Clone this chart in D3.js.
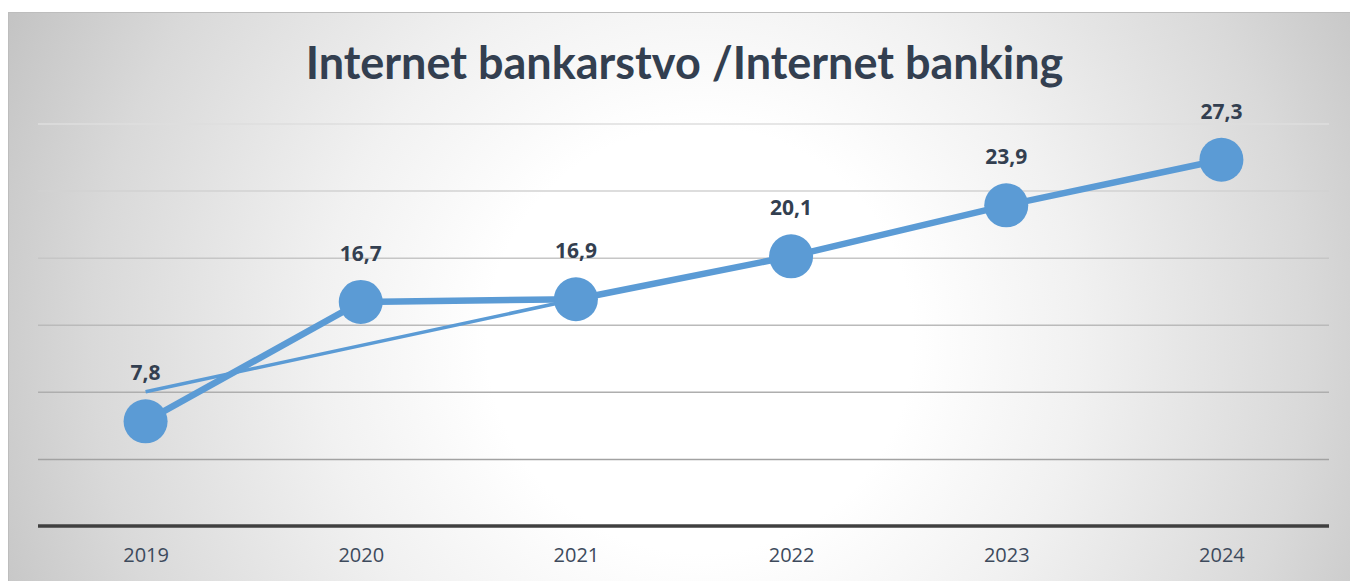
<!DOCTYPE html>
<html>
<head>
<meta charset="utf-8">
<script src="https://cdn.jsdelivr.net/npm/d3@7"></script>
<style>
  html, body { margin: 0; padding: 0; background: #ffffff; }
  svg { display: block; }
</style>
</head>
<body>
<svg id="chart" width="1350" height="581"></svg>
<script>
// ---- data ----
const titleText = "Internet bankarstvo /Internet banking";
const years = ["2019", "2020", "2021", "2022", "2023", "2024"];
const mainValues = [7.8, 16.7, 16.9, 20.1, 23.9, 27.3];
const mainLabels = ["7,8", "16,7", "16,9", "20,1", "23,9", "27,3"];
const secondValues = [10.0, null, 16.9, 20.1, 23.9, 27.3];
const yTicks = [0, 5, 10, 15, 20, 25, 30];

// ---- layout ----
const W = 1350, H = 581;
const frame = { x: 8, y: 12, w: W - 8, h: H - 12 };
const plot = { left: 38, right: 1329, top: 123.5, bottom: 526 };

const svg = d3.select("#chart");
const defs = svg.append("defs");

const grad = defs.append("radialGradient")
  .attr("id", "bg")
  .attr("gradientUnits", "userSpaceOnUse")
  .attr("cx", 700).attr("cy", 340).attr("r", 760)
  .attr("fx", 700).attr("fy", 340);
[[0, "#ffffff"], [0.28, "#ffffff"], [0.5, "#f1f1f1"], [0.8, "#d9d9d9"], [1, "#c4c4c4"]]
  .forEach(([o, c]) => grad.append("stop").attr("offset", o).attr("stop-color", c));

svg.append("rect")
  .attr("x", frame.x).attr("y", frame.y)
  .attr("width", frame.w).attr("height", frame.h)
  .attr("fill", "url(#bg)");
// frame border (top & left visible)
svg.append("path")
  .attr("d", `M${frame.x + 0.5},${H}V${frame.y + 0.5}H${W}`)
  .attr("fill", "none").attr("stroke", "#bdbdbd").attr("stroke-width", 1);

// ---- scales ----
const x = d3.scalePoint().domain(years).range([plot.left, plot.right]).padding(0.5);
const y = d3.scaleLinear().domain([0, 30]).range([plot.bottom, plot.top]);
const gridColor = d3.scaleLinear().domain([5, 30]).range(["#a2a2a2", "#dedede"]);

// ---- gridlines ----
const gridAxis = d3.axisLeft(y).tickValues(yTicks.filter(t => t > 0))
  .tickSize(-(plot.right - plot.left)).tickFormat("");
const gg = svg.append("g").attr("transform", `translate(${plot.left},0)`).call(gridAxis);
gg.select(".domain").remove();
gg.selectAll(".tick line")
  .attr("stroke", d => gridColor(d))
  .attr("stroke-width", 1.5);

// ---- x axis ----
const xAxis = d3.axisBottom(x).tickSize(0).tickPadding(22);
const xg = svg.append("g").attr("transform", `translate(0,${plot.bottom})`).call(xAxis);
xg.select(".domain")
  .attr("d", `M${plot.left},0H${plot.right}`)
  .attr("stroke", "#404040").attr("stroke-width", 3.5);
xg.selectAll(".tick text")
  .attr("font-family", "'Open Sans', sans-serif")
  .attr("font-size", 20)
  .attr("fill", "#3d4a5c");

// ---- series ----
const blue = "#5b9bd5";
const secPts = years.map((yr, i) => ({ yr, v: secondValues[i] })).filter(d => d.v !== null);
const line = d3.line().x(d => x(d.yr)).y(d => y(d.v));

svg.append("path")
  .datum(secPts)
  .attr("d", line)
  .attr("fill", "none")
  .attr("stroke", blue)
  .attr("stroke-width", 3.5)
  .attr("stroke-linejoin", "round");

const mainPts = years.map((yr, i) => ({ yr, v: mainValues[i], label: mainLabels[i] }));
svg.append("path")
  .datum(mainPts)
  .attr("d", line)
  .attr("fill", "none")
  .attr("stroke", blue)
  .attr("stroke-width", 6.5)
  .attr("stroke-linejoin", "round");

svg.append("g").selectAll("circle")
  .data(mainPts).join("circle")
  .attr("cx", d => x(d.yr)).attr("cy", d => y(d.v))
  .attr("r", 22).attr("fill", blue);

svg.append("g").selectAll("text")
  .data(mainPts).join("text")
  .attr("x", d => x(d.yr)).attr("y", d => y(d.v) - 41)
  .attr("text-anchor", "middle")
  .attr("font-family", "'Open Sans', sans-serif")
  .attr("font-weight", "bold")
  .attr("font-size", 21)
  .attr("fill", "#333f50")
  .text(d => d.label);

// ---- title ----
const title = svg.append("text")
  .attr("x", 684.5).attr("y", 79)
  .attr("text-anchor", "middle")
  .attr("font-family", "Lato, 'Open Sans', sans-serif")
  .attr("font-weight", "bold")
  .attr("font-size", 45)
  .attr("fill", "#333f50")
  .text(titleText);
const tw = title.node().getComputedTextLength();
if (Math.abs(tw - 755) > 4) title.attr("textLength", 755).attr("lengthAdjust", "spacingAndGlyphs");
</script>
</body>
</html>
